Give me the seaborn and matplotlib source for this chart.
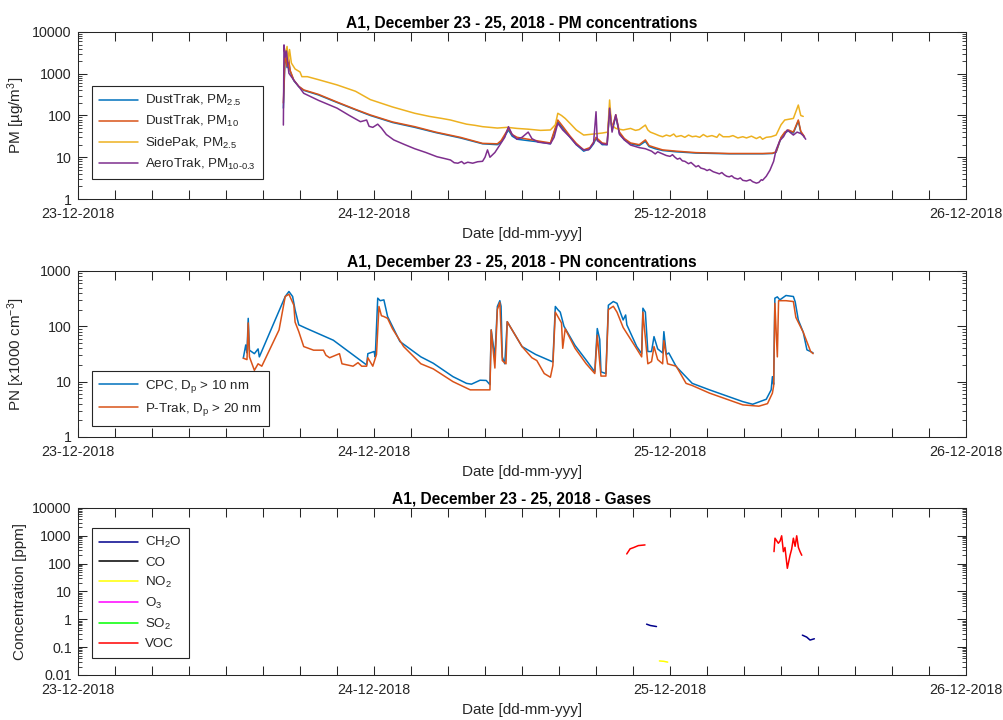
import numpy as np
import pandas as pd
import matplotlib
matplotlib.use("Agg")
import matplotlib.pyplot as plt
import matplotlib.dates as mdates
from matplotlib.ticker import FuncFormatter, LogLocator, NullFormatter
from matplotlib.lines import Line2D
import seaborn as sns

# ---------------- data (hours since 23-12-2018 00:00) ----------------
START = pd.Timestamp("2018-12-23 00:00")
day_labels = ["23-12-2018", "24-12-2018", "25-12-2018", "26-12-2018"]

titles = ["A1, December 23 - 25, 2018 - PM concentrations",
          "A1, December 23 - 25, 2018 - PN concentrations",
          "A1, December 23 - 25, 2018 - Gases"]
xlabel = "Date [dd-mm-yyy]"
ylabels = ["PM [µg/m$^{3}$]", "PN [x1000 cm$^{-3}$]", "Concentration [ppm]"]

# PM panel
dt25_h = [16.65, 16.8, 16.95, 17.05, 17.2, 17.5, 17.9, 18.3, 19.5, 21.0, 22.5, 23.7, 25.5, 27.3, 29.0,
          31.0, 32.8, 34.0, 34.3, 34.9, 35.2, 35.6, 36.5, 37.5, 38.3, 38.9, 39.3, 39.9, 40.4, 41.0,
          41.5, 41.8, 42.0, 42.5, 42.9, 43.1, 43.3, 43.6, 43.9, 44.3, 44.8, 45.5, 46.0, 46.3, 46.8,
          47.4, 48.5, 50.1, 52.8, 55.5, 56.3, 56.6, 57.0, 57.3, 57.6, 58.0, 58.4, 58.6, 58.9]
dt25_v = [150, 3300, 1400, 2300, 1150, 680, 490, 400, 310, 205, 137, 100, 68, 52, 39,
          29, 21, 20, 23, 45, 32, 27, 25, 23, 21, 70, 50, 30, 20, 14,
          16, 21, 28, 20, 20, 140, 45, 95, 37, 26, 21, 19, 24, 18, 16,
          14.5, 13.5, 12.6, 12.1, 12.1, 12.3, 13.2, 29, 38, 43, 38, 74, 40, 30]

dt10_h = [16.65, 16.8, 16.95, 17.05, 17.2, 17.5, 17.9, 18.3, 19.5, 21.0, 22.5, 23.7, 25.5, 27.3, 29.0,
          31.0, 32.8, 34.0, 34.3, 34.9, 35.2, 35.6, 36.5, 37.5, 38.3, 38.9, 39.3, 39.9, 40.4, 41.0,
          41.5, 41.8, 42.0, 42.5, 42.9, 43.1, 43.3, 43.6, 43.9, 44.3, 44.8, 45.5, 46.0, 46.3, 46.8,
          47.4, 48.5, 50.1, 52.8, 55.5, 56.3, 56.6, 57.0, 57.3, 57.6, 58.0, 58.4, 58.6, 58.9]
dt10_v = [200, 3500, 1500, 2500, 1200, 700, 500, 410, 320, 210, 140, 103, 70, 54, 40,
          30, 21.5, 21, 25, 49, 35, 30, 27, 24, 22, 78, 55, 32, 21.5, 15,
          17, 23, 30, 22, 21, 150, 50, 104, 40, 28, 22, 20, 26, 19, 17,
          15, 14, 12.9, 12.3, 12.3, 12.5, 13.5, 30, 40, 45, 40, 78, 42, 31]

sp25_h = [16.75, 16.95, 17.05, 17.15, 17.3, 17.6, 18.0, 18.15, 18.6, 19.5, 21.0, 22.5, 23.7, 25.5,
          27.3, 28.5, 29.5, 30.2, 30.8, 31.5, 32.2, 32.8, 33.4, 34.0, 34.8, 35.6, 36.5, 37.5, 38.3,
          38.7, 38.9, 39.2, 39.5, 40.0, 40.4, 41.0, 41.8, 42.5, 42.95, 43.1, 43.25, 43.6, 44.2,
          44.8, 45.2, 45.5, 46.0, 46.2, 46.4, 46.8, 47.1, 47.4, 47.7, 48.0, 48.3, 48.5, 48.9, 49.2,
          49.5, 49.8, 50.1, 50.4, 50.7, 51.0, 51.4, 51.8, 52.0, 52.3, 52.8, 53.1, 53.5, 53.9, 54.2,
          54.6, 55.0, 55.3, 55.5, 55.8, 56.2, 56.6, 57.0, 57.3, 58.0, 58.4, 58.6, 58.8]
sp25_v = [2500, 4500, 2000, 3800, 1800, 1300, 1100, 850, 850, 720, 540, 380, 240, 160,
          113, 95, 85, 78, 70, 62, 58, 54, 52, 50, 52, 49, 47, 44, 45,
          60, 113, 100, 85, 60, 45, 34, 36, 38, 40, 235, 60, 49, 45,
          49, 44, 46, 59, 45, 40, 36, 33, 31, 34, 32, 36, 31, 33, 30,
          34, 31, 32, 30, 35, 31, 33, 30, 36, 31, 31, 33, 29, 31, 29,
          32, 28, 31, 27, 30, 31, 34, 60, 78, 85, 178, 100, 95]

aero_h = [16.65, 16.7, 16.8, 16.9, 17.0, 17.1, 17.5, 18.0, 18.3, 19.5, 21.0, 22.0, 22.9, 23.2, 23.4,
          23.6, 23.9, 24.3, 24.6, 25.0, 25.6, 26.5, 27.3, 28.2, 29.1, 29.8, 30.2, 30.5, 30.8, 31.1,
          31.3, 31.6, 32.0, 32.4, 32.8, 33.0, 33.2, 33.4, 33.8, 34.2, 34.6, 34.9, 35.2, 35.6, 36.0,
          36.5, 36.8, 37.3, 37.8, 38.3, 38.6, 38.9, 39.3, 39.9, 40.4, 41.0, 41.4, 41.8, 42.0, 42.1,
          42.5, 42.9, 43.1, 43.3, 43.6, 43.9, 44.3, 44.8, 45.5, 46.0, 46.5, 46.8, 47.0, 47.4, 47.7,
          48.0, 48.2, 48.4, 48.6, 48.8, 49.0, 49.2, 49.5, 49.7, 50.1, 50.3, 50.5, 50.8, 51.0, 51.2,
          51.5, 51.8, 52.0, 52.2, 52.4, 52.6, 52.8, 53.0, 53.2, 53.5, 53.7, 53.9, 54.2, 54.5, 54.7,
          55.0, 55.2, 55.4, 55.5, 55.8, 56.1, 56.4, 56.6, 56.9, 57.2, 57.5, 57.8, 58.0, 58.3, 58.6,
          58.8, 59.0]
aero_v = [59, 4900, 2500, 3500, 1800, 1025, 700, 450, 340, 230, 150, 100, 71, 75, 78,
          55, 52, 62, 50, 35, 26, 20, 16, 13, 10.3, 9.2, 8.6, 7.4, 7.2, 7.9,
          7.0, 7.6, 7.2, 7.8, 8.0, 10, 15, 10, 13, 19.7, 30, 54, 35, 27, 30,
          40, 28, 23, 22, 21, 30, 65, 45, 30, 20, 15, 15, 22, 123, 25,
          21, 20, 150, 40, 104, 35, 26, 19.6, 17, 16, 14, 12, 13.5, 12, 11,
          10.5, 11.5, 10.0, 9.0, 9.5, 8.2, 8.0, 7.0, 7.5, 5.9, 6.3, 5.5, 5.2, 4.8, 5.1,
          4.5, 4.2, 4.0, 4.3, 3.8, 3.5, 3.4, 3.6, 3.2, 3.0, 3.2, 2.8, 2.7, 2.9, 2.6,
          2.4, 2.5, 2.9, 2.8, 3.5, 4.9, 8, 15, 25, 31, 45, 38, 34, 40, 37,
          33, 27]

# PN panel
cpc_h = [13.4, 13.6, 13.7, 13.8, 13.9, 14.3, 14.6, 14.7, 16.8, 17.1, 17.4, 17.6, 17.9, 18.5, 20.7,
         23.4, 23.5, 24.0, 24.1, 24.3, 24.5, 24.8, 25.1, 26.1, 27.8, 28.8, 30.4, 31.5, 31.9, 32.6,
         33.1, 33.4, 33.5, 33.8, 34.0, 34.2, 34.3, 34.4, 34.6, 34.8, 36.0, 37.1, 38.5, 38.7, 38.9,
         39.1, 39.4, 40.3, 41.2, 41.9, 42.1, 42.3, 42.4, 42.8, 43.0, 43.4, 43.7, 44.2, 44.4, 44.5,
         45.3, 45.7, 45.8, 46.0, 46.2, 46.5, 46.7, 47.0, 47.4, 47.5, 47.7, 47.9, 48.5, 49.8, 51.2,
         53.9, 54.7, 55.8, 56.2, 56.3, 56.4, 56.5, 56.7, 56.9, 57.4, 58.0, 58.15, 58.4, 58.8, 59.1,
         59.4, 59.6]
cpc_v = [26.5, 46, 33, 139, 37, 32, 39, 28, 345, 425, 345, 198, 106, 92, 56,
         20, 32, 35, 28, 322, 290, 300, 150, 53, 28, 21.5, 12.3, 9.3, 9.0, 10.6,
         10.5, 8.8, 86, 28, 228, 290, 230, 28, 21, 121, 43, 31, 22.7, 228, 200,
         180, 100, 45, 24.5, 15, 91, 58, 15, 14, 240, 280, 260, 130, 160, 106,
         43, 32, 212, 180, 35, 35, 65, 39, 33, 80, 31, 33, 18.7, 9.3, 7.1,
         4.35, 3.9, 4.8, 7.1, 12.3, 8.9, 322, 340, 300, 360, 345, 275, 130, 78, 37.5,
         35, 33]

ptrak_h = [13.4, 13.7, 13.8, 13.9, 14.3, 14.6, 14.9, 16.3, 16.5, 16.8, 17.1, 17.5, 17.6, 17.9, 18.3,
           19.1, 19.9, 20.1, 20.4, 21.2, 21.4, 22.3, 22.7, 23.0, 23.4, 23.5, 23.9, 24.2, 24.4, 24.6,
           24.8, 25.1, 25.5, 26.4, 27.8, 28.8, 30.4, 31.8, 33.4, 33.5, 33.8, 34.0, 34.2, 34.4, 34.7,
           34.8, 36.0, 36.8, 37.2, 37.8, 38.3, 38.5, 38.7, 39.2, 39.3, 39.5, 40.3, 41.2, 41.9, 42.1,
           42.4, 42.8, 43.0, 43.4, 43.7, 44.2, 45.3, 45.7, 45.8, 46.2, 46.5, 46.7, 47.0, 47.4, 47.5,
           47.8, 48.5, 49.3, 49.8, 51.2, 53.9, 55.2, 55.9, 56.3, 56.4, 56.5, 56.7, 56.8, 57.4, 58.0,
           58.2, 58.8, 59.4, 59.6]
ptrak_v = [26.5, 25, 115, 28, 16, 21, 19, 86, 150, 345, 380, 240, 119, 80, 43,
           37, 37, 30, 27, 32, 21, 19, 22, 19, 19, 27, 19, 31, 228, 155,
           150, 139, 90, 43, 21, 17, 10, 7.1, 7.1, 86, 17.6, 200, 270, 24, 21,
           121, 43, 27, 24, 14, 12, 19.6, 180, 115, 40, 90, 40, 21, 14, 69,
           12.6, 12.6, 200, 230, 180, 95, 39, 28, 180, 21, 23, 43, 25, 21, 55,
           21, 19, 9.3, 8.5, 6.2, 3.8, 3.6, 4.0, 6.2, 8.4, 260, 28, 290, 290, 280,
           145, 78, 35, 32]

# Gases panel (separate measurement segments)
voc1_h = [44.49, 44.76, 45.03, 45.43, 45.97]
voc1_v = [223, 340, 375, 445, 470]
voc2_h = [56.43, 56.51, 56.78, 56.92, 57.05, 57.19, 57.32, 57.51, 57.73, 57.86, 58.0, 58.14, 58.27, 58.41, 58.54, 58.68]
voc2_v = [270, 820, 540, 650, 1000, 270, 380, 68, 200, 330, 820, 420, 1000, 380, 270, 200]
ch2o1_h = [46.1, 46.4, 46.6, 46.9]
ch2o1_v = [0.67, 0.6, 0.58, 0.55]
ch2o2_h = [58.73, 59.08, 59.35, 59.7]
ch2o2_v = [0.27, 0.23, 0.18, 0.2]
no2_h = [47.14, 47.5, 47.81]
no2_v = [0.032, 0.031, 0.029]

pm_names = ["DustTrak, PM$_{2.5}$", "DustTrak, PM$_{10}$", "SidePak, PM$_{2.5}$", "AeroTrak, PM$_{10\u20100.3}$"]
pn_names = ["CPC, D$_{p}$ > 10 nm", "P-Trak, D$_{p}$ > 20 nm"]
gas_names = ["CH$_{2}$O", "CO", "NO$_{2}$", "O$_{3}$", "SO$_{2}$", "VOC"]

pm_colors = ["#0072BD", "#D95319", "#EDB120", "#7E2F8E"]
pn_colors = ["#0072BD", "#D95319"]
gas_colors = ["#00008B", "#000000", "#FFFF00", "#FF00FF", "#00FF00", "#FF0000"]


def build(series):
    rows = []
    for name, seg, hh, vv in series:
        for h, v in zip(hh, vv):
            rows.append((START + pd.Timedelta(hours=h), v, name, seg))
    return pd.DataFrame(rows, columns=["time", "value", "series", "seg"])


df_pm = build([(pm_names[0], 0, dt25_h, dt25_v), (pm_names[1], 0, dt10_h, dt10_v),
               (pm_names[2], 0, sp25_h, sp25_v), (pm_names[3], 0, aero_h, aero_v)])
df_pn = build([(pn_names[0], 0, cpc_h, cpc_v), (pn_names[1], 0, ptrak_h, ptrak_v)])
df_gas = build([(gas_names[0], 0, ch2o1_h, ch2o1_v), (gas_names[0], 1, ch2o2_h, ch2o2_v),
                (gas_names[2], 0, no2_h, no2_v),
                (gas_names[5], 0, voc1_h, voc1_v), (gas_names[5], 1, voc2_h, voc2_v)])

# ---------------- style ----------------
sns.set_theme(style="ticks")
plt.rcParams["font.family"] = ["Liberation Sans", "DejaVu Sans"]
plt.rcParams["mathtext.fontset"] = "custom"
plt.rcParams["mathtext.rm"] = "Liberation Sans"
plt.rcParams["mathtext.it"] = "Liberation Sans:italic"
plt.rcParams["mathtext.default"] = "regular"
AX_C = "#262626"

fig = plt.figure(figsize=(10.04, 7.2), dpi=100)
fig.patch.set_facecolor("white")
positions = [[0.0777, 0.7236, 0.8845, 0.2320],
             [0.0777, 0.3931, 0.8845, 0.2306],
             [0.0777, 0.0625, 0.8845, 0.2320]]
axes = [fig.add_axes(p) for p in positions]

panels = [
    (df_pm, pm_names, pm_colors, (1, 10000), 0.677),
    (df_pn, pn_names, pn_colors, (1, 1000), 0.398),
    (df_gas, gas_names, gas_colors, (0.01, 10000), 0.880),
]

day_ticks = [START + pd.Timedelta(days=i) for i in range(len(day_labels))]

for i, (ax, (df, names, colors, ylim, leg_top)) in enumerate(zip(axes, panels)):
    present = [n for n in names if n in set(df["series"])]
    pal = {n: c for n, c in zip(names, colors)}
    sns.lineplot(data=df, x="time", y="value", hue="series", units="seg",
                 estimator=None, sort=False, hue_order=present, palette=pal,
                 legend=False, ax=ax, linewidth=1.1)
    ax.set_yscale("log")
    ax.set_ylim(*ylim)
    ax.set_xlim(day_ticks[0], day_ticks[-1])
    ax.set_facecolor("white")

    # x ticks every 3 h, labels only at midnight
    ax.xaxis.set_major_locator(mdates.HourLocator(byhour=range(0, 24, 3)))
    lab = dict(zip([d.date() for d in day_ticks], day_labels))

    def fmt(x, pos, lab=lab):
        d = mdates.num2date(x)
        if d.hour == 0 and d.minute == 0:
            return lab.get(d.date(), "")
        return ""
    ax.xaxis.set_major_formatter(FuncFormatter(fmt))

    ax.yaxis.set_major_locator(LogLocator(base=10, numticks=20))
    ax.yaxis.set_minor_locator(LogLocator(base=10, subs=np.arange(2, 10), numticks=20))
    ax.yaxis.set_minor_formatter(NullFormatter())
    ax.yaxis.set_major_formatter(FuncFormatter(lambda v, p: f"{v:g}"))

    ax.tick_params(axis="both", which="major", direction="in", length=6.5, width=0.75,
                   color=AX_C, labelcolor=AX_C, top=True, right=True, labelsize=10.3)
    ax.tick_params(axis="x", which="major", pad=5.5)
    ax.tick_params(axis="y", which="major", pad=4.5)
    ax.tick_params(axis="y", which="minor", direction="in", length=3.2, width=0.6,
                   color=AX_C, right=True)
    ax.tick_params(axis="x", which="minor", bottom=False, top=False)
    for s in ax.spines.values():
        s.set_visible(True)
        s.set_color(AX_C)
        s.set_linewidth(0.75)

    ax.set_title(titles[i], fontsize=11.2, fontweight="bold", color="black", pad=3)
    ax.set_xlabel(xlabel, fontsize=11, color=AX_C)
    ax.xaxis.set_label_coords(0.5, -0.17)
    ax.xaxis.label.set_va("top")
    ax.set_ylabel(ylabels[i], fontsize=11, color=AX_C)
    ax.yaxis.set_label_coords(-0.057, 0.5)

    handles = [Line2D([0], [0], color=c, lw=1.1) for c in colors]
    leg = ax.legend(handles, names, loc="upper left", bbox_to_anchor=(0.0158, leg_top),
                    borderaxespad=0, fontsize=9.6, frameon=True, fancybox=False,
                    framealpha=1, edgecolor=AX_C, handlelength=2.9, handletextpad=0.55,
                    labelspacing=0.45, borderpad=0.55)
    leg.get_frame().set_linewidth(0.8)
    for t in leg.get_texts():
        t.set_color(AX_C)

fig.savefig("out.png", dpi=100, facecolor="white")
